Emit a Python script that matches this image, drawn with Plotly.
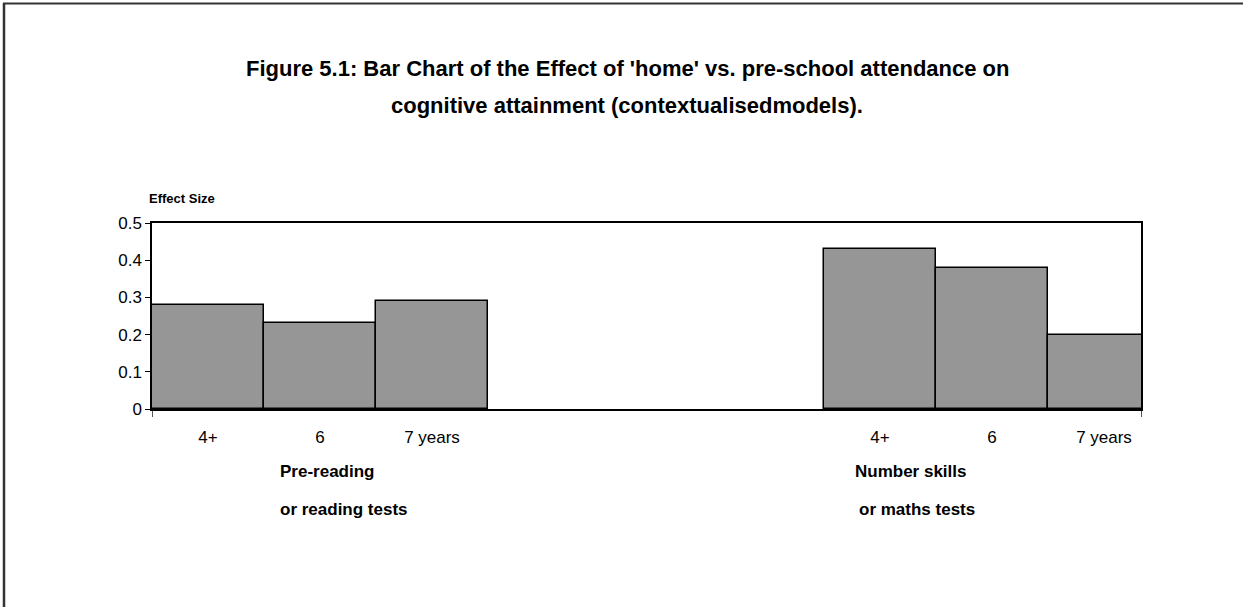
import plotly.graph_objects as go

# data
ages = ["4+", "6", "7 years"]
reading_effect = [0.28, 0.23, 0.29]
maths_effect = [0.43, 0.38, 0.20]
gap_slots = 3  # empty category slots between the two groups

y_ticks = [0, 0.1, 0.2, 0.3, 0.4, 0.5]
title_lines = ["Figure 5.1: Bar Chart of the Effect of 'home' vs. pre-school attendance on",
               "cognitive attainment (contextualisedmodels)."]
group_labels = [("Pre-reading", "or reading tests"), ("Number skills", "or maths tests")]

# pixel geometry of the plot area
W, H = 1243, 607
L, R, T, B = 152, 1141, 223, 409

x_read = [i + 0.5 for i in range(len(ages))]
x_math = [len(ages) + gap_slots + i + 0.5 for i in range(len(ages))]
x_end = (R - L) / 112.0  # last slot is cut off by the frame


def px_x(p):
    return (p - L) / (R - L)


def px_y(p):
    return (B - p) / (B - T)


font = "Liberation Sans, Arial, sans-serif"
bar_style = dict(marker=dict(color="#969696", line=dict(color="black", width=1.5)),
                 width=1, showlegend=False, hoverinfo="skip")

fig = go.Figure()
fig.add_trace(go.Bar(x=x_read, y=reading_effect, **bar_style))
fig.add_trace(go.Bar(x=x_math, y=maths_effect, **bar_style))

annotations = []
for i, line in enumerate(title_lines):
    annotations.append(dict(text="<b>%s</b>" % line, x=px_x(627), y=px_y(54 + 37 * i),
                            xref="paper", yref="paper", showarrow=False,
                            font=dict(size=22, family=font, color="black")))
annotations.append(dict(text="<b>Effect Size</b>", x=px_x(147), y=px_y(189), xanchor="left",
                        xref="paper", yref="paper", showarrow=False,
                        font=dict(size=13, family=font, color="black")))
for (l1, l2), x0 in zip(group_labels, [278, 853]):
    for j, txt in enumerate([l1, l2]):
        annotations.append(dict(text="<b>%s</b>" % txt, x=px_x(x0 + (4 if j and x0 > 500 else 0)),
                                y=px_y(483 + 38 * j), xanchor="left",
                                xref="paper", yref="paper", showarrow=False,
                                font=dict(size=17, family=font, color="black")))

# outer chart frame (left and top edges visible)
shapes = [
    dict(type="line", xref="paper", yref="paper", x0=px_x(4), x1=px_x(4), y0=px_y(3), y1=px_y(H + 5),
         line=dict(color="#333333", width=2.5)),
    dict(type="line", xref="paper", yref="paper", x0=px_x(3), x1=px_x(W + 5), y0=px_y(3.5), y1=px_y(3.5),
         line=dict(color="#333333", width=2)),
]

fig.update_layout(
    width=W, height=H,
    margin=dict(l=L, r=W - R, t=T, b=H - B),
    paper_bgcolor="white", plot_bgcolor="white",
    bargap=0,
    font=dict(family=font, color="black"),
    annotations=annotations,
    shapes=shapes,
    xaxis=dict(range=[0, x_end], tickvals=x_read + x_math, ticktext=ages + ages,
               ticks="", tickfont=dict(size=17), ticklabelstandoff=12,
               showgrid=False, zeroline=False,
               showline=True, linecolor="black", linewidth=1.5, mirror=True,
               minor=dict(tickvals=[0, x_end], ticks="outside", ticklen=6, tickcolor="#555555")),
    yaxis=dict(range=[0, 0.5], tickvals=y_ticks, ticktext=["0", "0.1", "0.2", "0.3", "0.4", "0.5"],
               ticks="outside", ticklen=5, tickcolor="black", tickfont=dict(size=17),
               showgrid=False, zeroline=False,
               showline=True, linecolor="black", linewidth=1.5, mirror=True),
)

# drop the default page margin so the figure sits at the window's top-left corner
fig.write_html("out.html", config={"displayModeBar": False},
               post_script="document.body.style.margin='0';")
